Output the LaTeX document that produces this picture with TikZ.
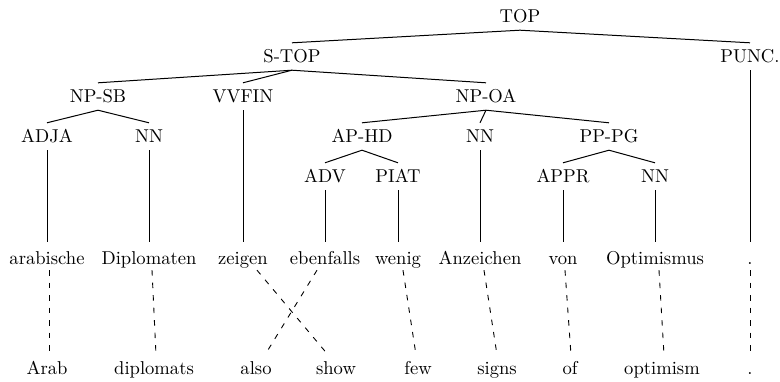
\documentclass[tikz,border=0pt]{standalone}
\usepackage{fontspec}
\setmainfont{lmroman10-regular.otf}
\usetikzlibrary{calc}
\begin{document}
\begin{tikzpicture}[x=1pt,y=-1pt,
  tag/.style={anchor=base, text height=13pt, text depth=2pt, inner xsep=1pt, inner ysep=6pt, font=\fontsize{18.6}{22}\selectfont},
  word/.style={tag, text height=16pt, text depth=0pt},
  gloss/.style={tag, text height=13pt, text depth=0pt},
  edge/.style={line width=1pt},
  align/.style={line width=0.9pt, dash pattern=on 5.5pt off 7pt}]
\useasboundingbox (0,0) rectangle (780,381);
% phrase nodes
\node[tag] (TOP) at (520,22) {TOP};
\node[tag] (STOP) at (292,62) {S-TOP};
\node[tag] (PUNC) at (750,62) {PUNC.};
\node[tag] (NPSB) at (98,102) {NP-SB};
\node[tag] (VVFIN) at (243,102) {VVFIN};
\node[tag] (NPOA) at (486,102) {NP-OA};
\node[tag] (ADJA) at (47,142) {ADJA};
\node[tag] (NNa) at (149,142) {NN};
\node[tag] (APHD) at (362,142) {AP-HD};
\node[tag] (NNb) at (480,142) {NN};
\node[tag] (PPPG) at (609,142) {PP-PG};
\node[tag] (ADV) at (325,182) {ADV};
\node[tag] (PIAT) at (398,182) {PIAT};
\node[tag] (APPR) at (563,182) {APPR};
\node[tag] (NNc) at (655,182) {NN};
% German words
\node[word] (w1) at (47,264) {arabische};
\node[word] (w2) at (149,264) {Diplomaten};
\node[word] (w3) at (243,264) {zeigen};
\node[word] (w4) at (325,264) {ebenfalls};
\node[word] (w5) at (398,264) {wenig};
\node[word] (w6) at (480,264) {Anzeichen};
\node[word] (w7) at (563,264) {von};
\node[word] (w8) at (655,264) {Optimismus};
\node[word] (w9) at (750,264) {.};
% English words
\node[gloss] (e1) at (47,374) {Arab};
\node[gloss] (e2) at (154,374) {diplomats};
\node[gloss] (e3) at (256,374) {also};
\node[gloss] (e4) at (336,374) {show};
\node[gloss] (e5) at (418,374) {few};
\node[gloss] (e6) at (497,374) {signs};
\node[gloss] (e7) at (570,374) {of};
\node[gloss] (e8) at (662,374) {optimism};
\node[gloss] (e9) at (750,374) {.};
% tree edges
\draw[edge] (TOP.south) -- (STOP.north);
\draw[edge] (TOP.south) -- (PUNC.north);
\draw[edge] (STOP.south) -- (NPSB.north);
\draw[edge] (STOP.south) -- (VVFIN.north);
\draw[edge] (STOP.south) -- (NPOA.north);
\draw[edge] (NPSB.south) -- (ADJA.north);
\draw[edge] (NPSB.south) -- (NNa.north);
\draw[edge] (NPOA.south) -- (APHD.north);
\draw[edge] (NPOA.south) -- (NNb.north);
\draw[edge] (NPOA.south) -- (PPPG.north);
\draw[edge] (APHD.south) -- (ADV.north);
\draw[edge] (APHD.south) -- (PIAT.north);
\draw[edge] (PPPG.south) -- (APPR.north);
\draw[edge] (PPPG.south) -- (NNc.north);
\draw[edge] (ADJA.south) -- (w1.north);
\draw[edge] (NNa.south) -- (w2.north);
\draw[edge] (VVFIN.south) -- (w3.north);
\draw[edge] (ADV.south) -- (w4.north);
\draw[edge] (PIAT.south) -- (w5.north);
\draw[edge] (NNb.south) -- (w6.north);
\draw[edge] (APPR.south) -- (w7.north);
\draw[edge] (NNc.south) -- (w8.north);
\draw[edge] (PUNC.south) -- (w9.north);
% alignment links
\draw[align] ([xshift=2]w1.south) -- ([xshift=2]e1.north);
\draw[align] ([xshift=3]w2.south) -- ([xshift=2]e2.north);
\draw[align] ([xshift=14]w3.south) -- ([xshift=-8]e4.north);
\draw[align] ([xshift=-8]w4.south) -- ([xshift=9]e3.north);
\draw[align] ([xshift=5]w5.south) -- ([xshift=-2]e5.north);
\draw[align] ([xshift=4]w6.south) -- (e6.north);
\draw[align] ([xshift=2]w7.south) -- ([xshift=1]e7.north);
\draw[align] ([xshift=4]w8.south) -- ([xshift=2]e8.north);
\draw[align] (w9.south) -- (e9.north);
\end{tikzpicture}
\end{document}
